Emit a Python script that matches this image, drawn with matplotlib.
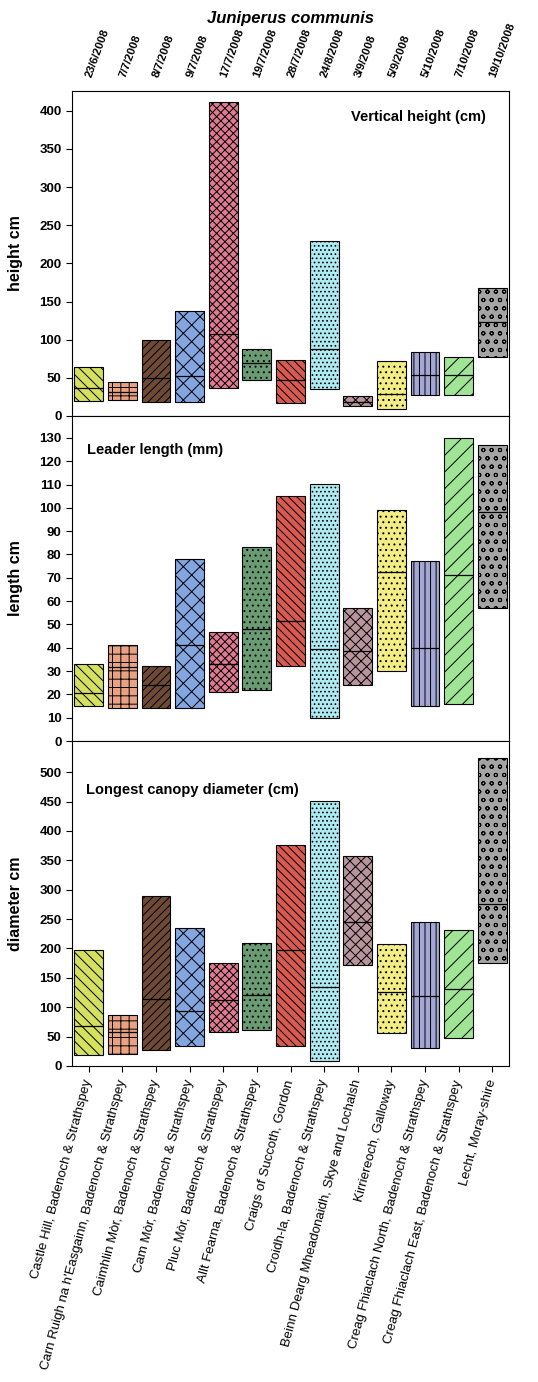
import numpy as np
import matplotlib
matplotlib.use("Agg")
import matplotlib.pyplot as plt

plt.rcParams["font.family"] = ["Liberation Sans", "DejaVu Sans"]
plt.rcParams["hatch.linewidth"] = 0.7

sites = [
    "Castle Hill, Badenoch & Strathspey",
    "Carn Ruigh na h'Easgainn, Badenoch & Strathspey",
    "Caimhlin Mòr, Badenoch & Strathspey",
    "Cam Mòr, Badenoch & Strathspey",
    "Pluc Mòr, Badenoch & Strathspey",
    "Allt Fearna, Badenoch & Strathspey",
    "Craigs of Succoth, Gordon",
    "Croidh-la, Badenoch & Strathspey",
    "Beinn Dearg Mheadonaidh, Skye and Lochalsh",
    "Kirriereoch, Galloway",
    "Creag Fhiaclach North, Badenoch & Strathspey",
    "Creag Fhiaclach East, Badenoch & Strathspey",
    "Lecht, Moray-shire",
]
dates = ["23/6/2008", "7/7/2008", "8/7/2008", "9/7/2008", "17/7/2008", "19/7/2008",
         "28/7/2008", "24/8/2008", "3/9/2008", "5/9/2008", "5/10/2008", "7/10/2008",
         "19/10/2008"]

# min, median, max per site
height_min = [19.7, 20.5, 18.8, 17.9, 36.7, 47.6, 16.6, 35.8, 12.7, 8.7, 27.0, 27.5, 77.7]
height_med = [36.2, 31.0, 49.3, 52.4, 107.4, 69.9, 46.7, 87.3, 18.3, 28.4, 54.0, 54.0, 123.0]
height_max = [63.8, 44.5, 100.0, 137.0, 411.0, 87.8, 73.8, 230.0, 26.0, 71.6, 83.8, 76.9, 167.7]

leader_min = [14.9, 14.0, 14.0, 14.0, 21.0, 22.0, 32.0, 10.0, 24.0, 30.0, 14.9, 16.0, 57.1]
leader_med = [20.7, 31.7, 23.9, 41.3, 32.9, 47.9, 51.4, 39.3, 38.4, 72.4, 39.7, 71.1, 98.4]
leader_max = [33.0, 41.0, 32.0, 78.0, 46.9, 83.1, 105.1, 110.1, 57.1, 99.0, 77.0, 130.0, 127.0]

diam_min = [18.1, 21.0, 26.6, 33.4, 57.2, 60.6, 33.4, 7.9, 171.6, 56.0, 30.0, 47.0, 175.0]
diam_med = [68.5, 58.3, 113.8, 92.9, 111.6, 121.2, 198.2, 134.2, 245.2, 126.3, 118.9, 130.2, 275.2]
diam_max = [197.6, 86.0, 289.4, 235.0, 175.6, 209.5, 376.6, 450.2, 357.3, 208.4, 245.8, 231.6, 523.8]

colors = ["#d4e15f", "#e9a183", "#6e4a36", "#84a6e0", "#e07a92", "#6a9c74", "#d85a50",
          "#aeeaf2", "#b8949c", "#f3ee84", "#a4a6d4", "#a0e596", "#a4a4a4"]
hatches = ["\\\\\\", "++", "////", "xx", "xxxx", "...", "\\\\\\\\", "....", "xxx",
           "...", "|||", "//", "oo"]

W, H = 538, 1382
fig = plt.figure(figsize=(W / 100, H / 100), dpi=100)

left = 72 / W
width = 437 / W
ph = 325 / H
panels = [
    (height_min, height_med, height_max, 426, np.arange(0, 401, 50), "height cm", 416),
    (leader_min, leader_med, leader_max, 139.4, np.arange(0, 131, 10), "length cm", 741),
    (diam_min, diam_med, diam_max, 553, np.arange(0, 501, 50), "diameter cm", 1066),
]

x = np.arange(len(sites))
bw = 0.86
axes = []
for lo, med, hi, ytop, yticks, ylab, ybot in panels:
    ax = fig.add_axes([left, 1 - ybot / H, width, ph])
    lo = np.array(lo)
    hi = np.array(hi)
    for i in range(len(sites)):
        ax.bar(x[i], hi[i] - lo[i], bottom=lo[i], width=bw, color=colors[i],
               hatch=hatches[i], edgecolor="black", linewidth=0.8, zorder=2)
    ax.hlines(med, x - bw / 2, x + bw / 2, color="black", linewidth=0.9, zorder=3)
    ax.set_xlim(-0.5, len(sites) - 0.5)
    ax.set_ylim(0, ytop)
    ax.set_yticks(yticks)
    ax.set_xticks(x)
    ax.tick_params(axis="both", direction="out", length=4, width=0.8, labelsize=9.5)
    for lbl in ax.get_yticklabels():
        lbl.set_fontweight("bold")
    ax.set_ylabel(ylab, fontsize=11.5, fontweight="bold")
    ax.yaxis.set_label_coords(-0.112, 0.5)
    for s in ax.spines.values():
        s.set_linewidth(0.8)
    axes.append(ax)

axes[0].set_xticklabels([])
axes[1].set_xticklabels([])
axes[2].set_xticklabels(sites, rotation=75, ha="right", va="center",
                        rotation_mode="anchor", fontsize=9.5)
axes[2].tick_params(axis="x", pad=6)

axes[0].text(0.947, 0.92, "Vertical height (cm)", transform=axes[0].transAxes,
             ha="right", va="center", fontsize=10.5, fontweight="bold")
axes[1].text(0.034, 0.895, "Leader length (mm)", transform=axes[1].transAxes,
             ha="left", va="center", fontsize=10.5, fontweight="bold")
axes[2].text(0.032, 0.85, "Longest canopy diameter (cm)", transform=axes[2].transAxes,
             ha="left", va="center", fontsize=10.5, fontweight="bold")

top = axes[0].secondary_xaxis("top")
top.set_xticks(x)
top.set_xticklabels(dates, rotation=70, ha="left", va="center",
                    rotation_mode="anchor", fontsize=8.2, fontweight="bold")
top.tick_params(axis="x", length=0, pad=10)
top.spines["top"].set_visible(False)

fig.text((72 + 509) / 2 / W, 1 - 18 / H, "Juniperus communis", ha="center", va="center",
         fontsize=12, fontweight="bold", style="italic")

fig.savefig("out.png", dpi=100)
